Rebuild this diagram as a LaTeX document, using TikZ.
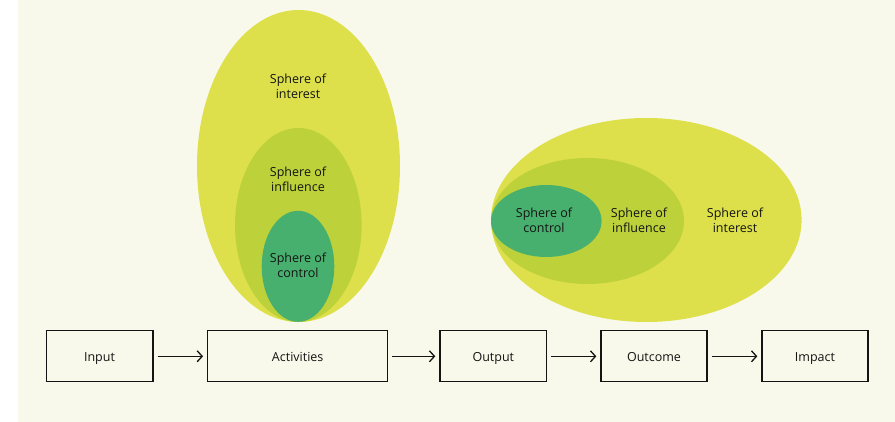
\documentclass[tikz,border=0pt]{standalone}
\usepackage{fontspec}
\setmainfont{Open Sans}
\usetikzlibrary{arrows.meta}
\definecolor{bgc}{HTML}{F8F9EA}
\definecolor{interestc}{HTML}{DDE04A}
\definecolor{influencec}{HTML}{BDD13A}
\definecolor{controlc}{HTML}{47B06E}
\definecolor{inkc}{HTML}{141414}
\tikzset{
  stagebox/.style={draw=inkc, line width=1.3pt, minimum height=51pt, inner sep=0pt, text height=10.5pt, text depth=1.1pt, font=\fontsize{12.5}{14}\selectfont, text=inkc},
  flow/.style={draw=inkc, line width=1.3pt, -{Straight Barb[length=5pt,width=11pt,line width=1.3pt]}},
  spheretext/.style={align=center, font=\fontsize{12.5}{15}\selectfont, text=inkc},
}
\begin{document}
\begin{tikzpicture}[x=1pt,y=-1pt]
\useasboundingbox (0,0) rectangle (895,422);
\fill[white] (0,0) rectangle (895,422);
\fill[bgc] (18,0) rectangle (895,422);
% left spheres
\fill[interestc] (298.5,166) ellipse [x radius=101.5, y radius=156];
\fill[influencec] (298.3,225) ellipse [x radius=63.3, y radius=97];
\fill[controlc] (298,266.3) ellipse [x radius=36.3, y radius=55.5];
\node[spheretext] (li) at (298,86.5) {Sphere of\\interest};
\node[spheretext] (lf) at (298,179.5) {Sphere of\\influence};
\node[spheretext] (lc) at (298,265.5) {Sphere of\\control};
% right spheres
\fill[interestc] (646.3,220) ellipse [x radius=155.3, y radius=102];
\fill[influencec] (587.5,221) ellipse [x radius=96.5, y radius=63];
\fill[controlc] (546.3,221) ellipse [x radius=55.3, y radius=36];
\node[spheretext] (rc) at (544,220) {Sphere of\\control};
\node[spheretext] (rf) at (639,220) {Sphere of\\influence};
\node[spheretext] (ri) at (735,220) {Sphere of\\interest};
% stages
\node[stagebox, minimum width=106.7pt] (input) at (99.5,356.3) {Input};
\node[stagebox, minimum width=180pt] (act) at (297.7,356.3) {Activities};
\node[stagebox, minimum width=106.7pt] (out) at (493.3,356.3) {Output};
\node[stagebox, minimum width=106pt] (outc) at (654,356.3) {Outcome};
\node[stagebox, minimum width=106pt] (imp) at (815,356.3) {Impact};
\draw[flow] ([xshift=4pt]input.east) -- ([xshift=-4pt]act.west);
\draw[flow] ([xshift=4pt]act.east) -- ([xshift=-4pt]out.west);
\draw[flow] ([xshift=4pt]out.east) -- ([xshift=-4pt]outc.west);
\draw[flow] ([xshift=4pt]outc.east) -- ([xshift=-4pt]imp.west);
\end{tikzpicture}
\end{document}
